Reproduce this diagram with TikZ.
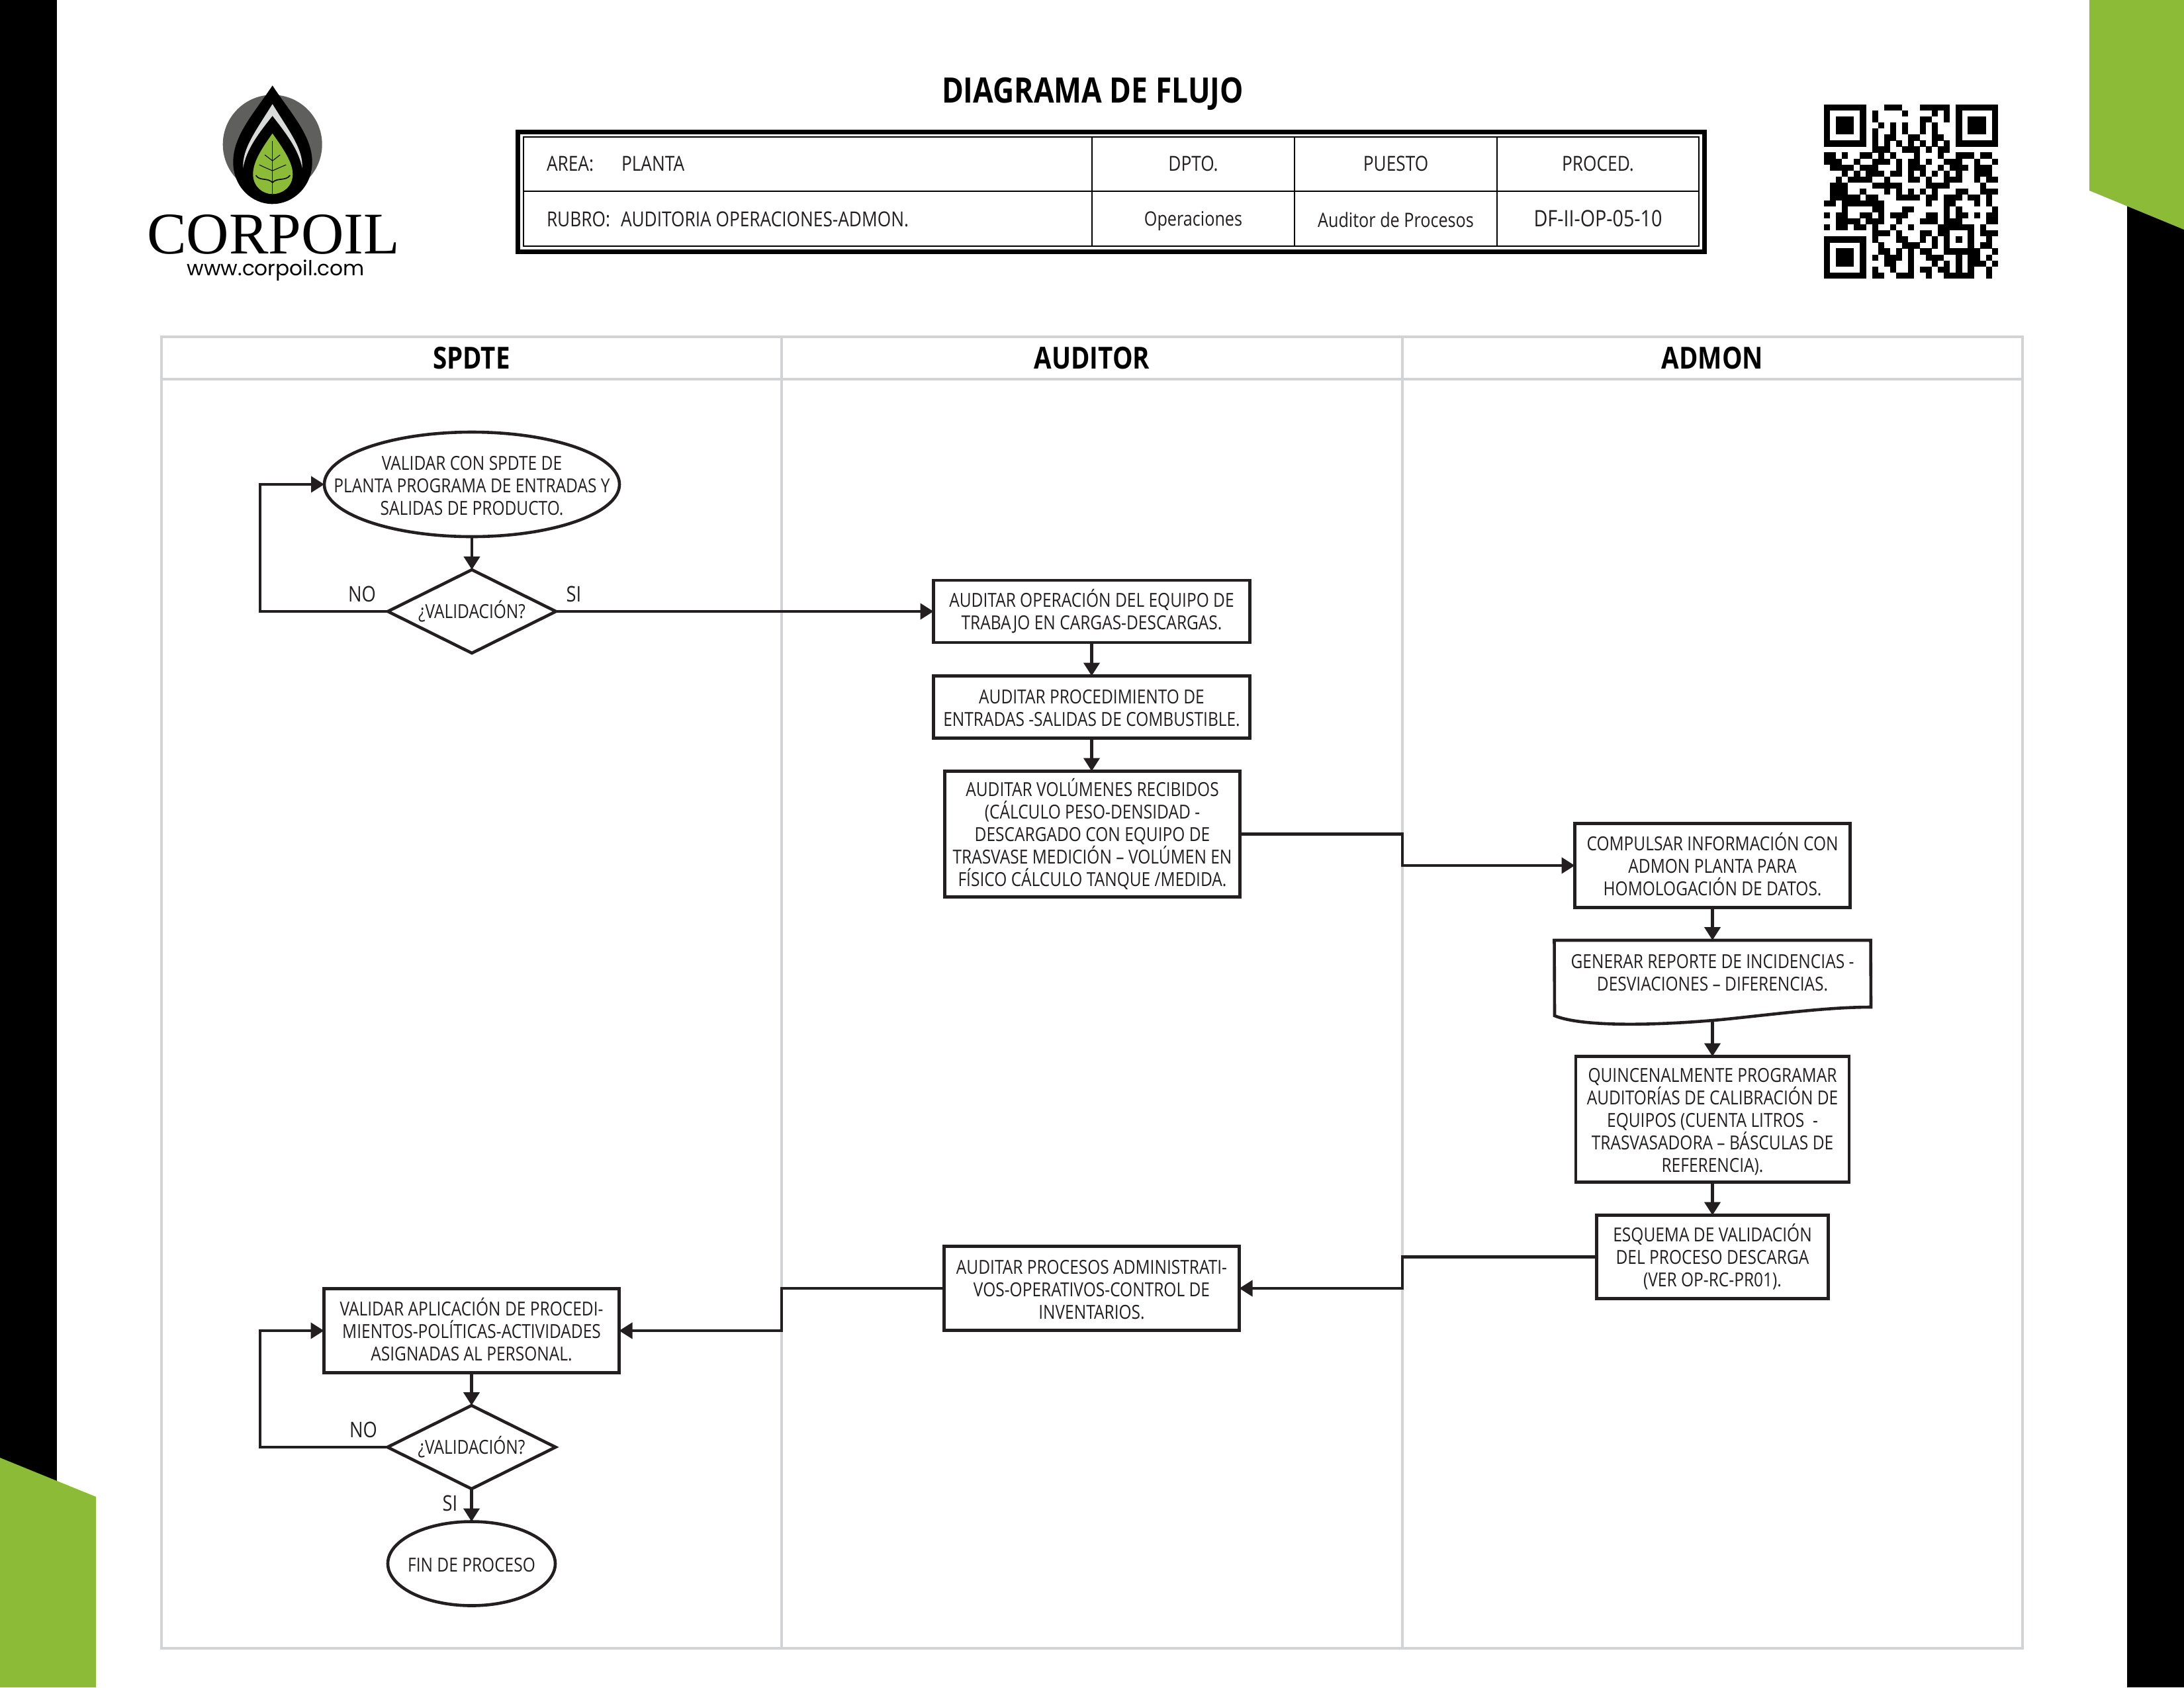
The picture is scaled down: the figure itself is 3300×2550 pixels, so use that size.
\documentclass[tikz,border=0pt]{standalone}
\usepackage{fontspec}
\setmainfont[FakeStretch=0.84]{Open Sans}
\newfontfamily\logoserif{Liberation Serif}
\newfontfamily\logosans{Poppins}
\usetikzlibrary{arrows.meta,shapes.geometric}
\definecolor{ink}{HTML}{231F20}
\definecolor{lanegray}{HTML}{D1D3D4}
\definecolor{brandgreen}{HTML}{8CBB38}
\definecolor{logogray}{HTML}{5F605E}
\definecolor{logolight}{HTML}{D9DBDA}
\def\px{0.24pt}
\tikzset{
  x=0.24pt,y=-0.24pt,
  every node/.style={outer sep=0pt,inner sep=0pt,text=ink},
  boxtext/.style={align=center,font=\fontsize{7}{8.16}\selectfont,text=ink},
  procbox/.style={draw=ink,fill=white,line width=4.6*\px,rectangle,boxtext},
  startell/.style={draw=ink,fill=white,line width=4.6*\px,ellipse},
  decide/.style={draw=ink,fill=white,line width=4.6*\px,diamond,shape aspect=2},
  flow/.style={draw=ink,line width=4.4*\px,-{Triangle[length=20*\px,width=24*\px]}},
  flowlabel/.style={font=\fontsize{7.8}{9}\selectfont,text=ink},
  lanebox/.style={draw=lanegray,line width=4.5*\px,rectangle,font=\fontsize{11}{13}\bfseries\selectfont,text=black},
  tabcell/.style={draw=black,line width=2.2*\px,rectangle},
  tabtext/.style={anchor=base,font=\fontsize{7.5}{9}\selectfont,text=ink},
  tablow/.style={tabtext,font=\fontsize{7.2}{9}\selectfont},
}
\begin{document}
\begin{tikzpicture}
\useasboundingbox (0,0) rectangle (3300,2550);
\fill[white] (0,0) rectangle (3300,2550);
% page bands
\fill[black] (0,0) rectangle (86,2550);
\fill[black] (3214,0) rectangle (3300,2550);
\fill[brandgreen] (3157,0) -- (3300,0) -- (3300,347) -- (3157,288) -- cycle;
\fill[brandgreen] (0,2203) -- (145,2262) -- (145,2550) -- (0,2550) -- cycle;
% logo
\fill[logogray] (411.7,218.3) circle [radius=75];
\fill[black] (411.7,129.3) .. controls (383,172) and (352.3,205) .. (352.3,245)
  .. controls (352.3,282) and (380,308.3) .. (411.7,308.3)
  .. controls (443,308.3) and (471.7,282) .. (471.7,245)
  .. controls (471.7,205) and (440,172) .. (411.7,129.3) -- cycle;
\fill[logolight] (411.7,157.3) .. controls (385,200) and (366,225) .. (367.3,254)
  .. controls (372,225) and (392,200) .. (411.7,175)
  .. controls (431,200) and (451,225) .. (456.7,254)
  .. controls (458,225) and (438,200) .. (411.7,157.3) -- cycle;
\fill[brandgreen] (411.7,201.7) .. controls (395,225) and (382.3,245) .. (382.3,263.3)
  .. controls (382.3,282) and (397,293.3) .. (411.7,293.3)
  .. controls (427,293.3) and (442.3,282) .. (442.3,263.3)
  .. controls (442.3,245) and (428,225) .. (411.7,201.7) -- cycle;
\draw[black,line width=1.4*\px] (411.7,213) -- (411.7,293.3);
\draw[black,line width=1*\px] (400,234) .. controls (405,238) .. (411.7,243) .. controls (418,238) .. (423.3,234);
\draw[black,line width=1*\px] (391.7,249) .. controls (400,253) .. (411.7,258) .. controls (423,253) .. (432.3,249);
\draw[black,line width=1.6*\px] (386.7,265) .. controls (392,274) and (405,268) .. (411.7,276) .. controls (418,268) and (432,274) .. (438.3,265);
\node[anchor=base,font=\logoserif\fontsize{21.4}{24}\selectfont,text=black] (corp) at (413,383) {CORPOIL};
\node[anchor=base,font=\logosans\fontsize{7.5}{9}\selectfont,text=black] (web) at (416.7,416.7) {www.corpoil.com};
% QR
\foreach \r/\cs in {
0/{0,1,2,3,4,5,6,10,11,12,16,17,18,19,20,22,23,24,25,26,27,28},
1/{0,6,8,13,18,20,22,28},
2/{0,2,3,4,6,8,16,17,20,22,24,25,26,28},
3/{0,2,3,4,6,9,11,13,16,18,22,24,25,26,28},
4/{0,2,3,4,6,8,11,13,16,18,22,24,25,26,28},
5/{0,6,8,10,11,14,15,18,19,22,28},
6/{0,1,2,3,4,5,6,8,10,12,14,16,18,20,22,23,24,25,26,27,28},
7/{8,9,10,13,14,15,17,19,20},
8/{0,1,3,6,7,9,11,15,19,22,23,24,26,27},
9/{0,1,2,5,8,9,10,12,14,15,17,20,21,22,25,28},
10/{1,2,3,4,6,7,8,12,14,15,16,19,21,22,23,25,26,27},
11/{3,5,7,8,9,11,12,14,16,18,20,22,25,26,27},
12/{2,4,5,6,7,10,14,15,17,20,21,22,25,27,28},
13/{1,2,3,8,9,10,11,12,17,18,19,20,26},
14/{1,2,3,6,10,12,14,16,18,22,23,26,27,28},
15/{1,2,3,4,5,7,8,12,13,14,15,17,18,20,21,22,24,25,27},
16/{0,1,3,4,5,6,7,8,9,17,20,21,25,27},
17/{3,8,9,13,14,20,22,28},
18/{0,2,3,6,7,9,11,12,13,17,18,20,22,23,25,27,28},
19/{2,3,4,5,7,8,9,12,16,17,18,20,21,22,27,28},
20/{0,2,3,5,6,8,11,14,19,20,21,22,23,24,26},
21/{8,9,10,12,16,17,19,20,24,26,27,28},
22/{0,1,2,3,4,5,6,8,12,13,16,18,20,22,24,27},
23/{0,6,9,13,14,15,18,20,24,26,27},
24/{0,2,3,4,6,9,10,12,14,16,17,20,21,22,23,24,25,28},
25/{0,2,3,4,6,8,10,11,12,14,17,18,19,22,24,25,27},
26/{0,2,3,4,6,10,11,14,18,20,22,24,25,26,28},
27/{0,6,8,11,14,16,17,19,20,22,24,27},
28/{0,1,2,3,4,5,6,8,9,12,13,14,17,20,21,22,23,24,27}}{
  \foreach \c in \cs {
    \fill[black] ({2756+\c*9.06},{158+\r*9.06}) rectangle +(9.2,9.2);
  }
}
% title
\node[anchor=base,font=\fontsize{12.7}{15}\bfseries\selectfont,text=black] (title) at (1651,155) {DIAGRAMA DE FLUJO};
% header table
\node[tabcell,minimum width=859*\px,minimum height=82*\px] (cArea) at (1220.5,248) {};
\node[tabcell,minimum width=859*\px,minimum height=83*\px] (cRubro) at (1220.5,330.5) {};
\node[tabcell,minimum width=306*\px,minimum height=82*\px] (cDpto) at (1803,248) {};
\node[tabcell,minimum width=306*\px,minimum height=83*\px] (cOper) at (1803,330.5) {};
\node[tabcell,minimum width=306*\px,minimum height=82*\px] (cPuesto) at (2109,248) {};
\node[tabcell,minimum width=306*\px,minimum height=83*\px] (cAudit) at (2109,330.5) {};
\node[tabcell,minimum width=305*\px,minimum height=82*\px] (cProced) at (2414.5,248) {};
\node[tabcell,minimum width=305*\px,minimum height=83*\px] (cDoc) at (2414.5,330.5) {};
\node[draw=black,line width=7*\px,rectangle,minimum width=1793*\px,minimum height=181*\px] (tframe) at (1679,289.5) {};
\node[tabtext,anchor=base west] (tA) at (826,258.5) {AREA:};
\node[tabtext,anchor=base west] (tP) at (939,258.5) {PLANTA};
\node[tabtext,anchor=base west] (tR) at (826,342.5) {RUBRO:};
\node[tabtext,anchor=base west] (tU) at (938,342.5) {AUDITORIA OPERACIONES-ADMON.};
\node[tabtext] (tD) at (1803,258.5) {DPTO.};
\node[tablow] (tO) at (1803,341.5) {Operaciones};
\node[tabtext] (tPu) at (2109,258.5) {PUESTO};
\node[tablow] (tAu) at (2109,343.5) {Auditor de Procesos};
\node[tabtext] (tPr) at (2414.5,258.5) {PROCED.};
\node[tabtext,font=\fontsize{8.2}{10}\selectfont] (tDf) at (2414.5,342.5) {DF-II-OP-05-10};
% swimlanes
\node[lanebox,minimum width=937*\px,minimum height=64*\px] (h1) at (712.5,541) {SPDTE};
\node[lanebox,minimum width=938*\px,minimum height=64*\px] (h2) at (1650,541) {AUDITOR};
\node[lanebox,minimum width=937*\px,minimum height=64*\px] (h3) at (2587.5,541) {ADMON};
\node[lanebox,minimum width=937*\px,minimum height=1918*\px] (b1) at (712.5,1532) {};
\node[lanebox,minimum width=938*\px,minimum height=1918*\px] (b2) at (1650,1532) {};
\node[lanebox,minimum width=937*\px,minimum height=1918*\px] (b3) at (2587.5,1532) {};
% flow nodes
\node[startell,minimum width=446*\px,minimum height=158*\px,
  label={[boxtext,yshift=-0.5pt]center:VALIDAR CON SPDTE DE\\PLANTA PROGRAMA DE ENTRADAS Y\\SALIDAS DE PRODUCTO.}] (start) at (713,732) {};
\node[decide,minimum width=254*\px,minimum height=126*\px,label={[boxtext]center:¿VALIDACIÓN?}] (dec1) at (713,924) {};
\node[procbox,minimum width=478*\px,minimum height=94*\px] (aud1) at (1649.5,924) {AUDITAR OPERACIÓN DEL EQUIPO DE\\TRABAJO EN CARGAS-DESCARGAS.};
\node[procbox,minimum width=478*\px,minimum height=94*\px,
  label={[boxtext,yshift=-0.5pt]center:AUDITAR PROCEDIMIENTO DE\\ENTRADAS -SALIDAS DE COMBUSTIBLE.}] (aud2) at (1649.5,1068.5) {};
\node[procbox,minimum width=446*\px,minimum height=190*\px] (aud3) at (1650.5,1260.5) {AUDITAR VOLÚMENES RECIBIDOS\\(CÁLCULO PESO-DENSIDAD -\\DESCARGADO CON EQUIPO DE\\TRASVASE MEDICIÓN – VOLÚMEN EN\\FÍSICO CÁLCULO TANQUE /MEDIDA.};
\node[procbox,minimum width=416*\px,minimum height=127*\px,
  label={[boxtext,yshift=0.5pt]center:COMPULSAR INFORMACIÓN CON\\ADMON PLANTA PARA\\HOMOLOGACIÓN DE DATOS.}] (comp) at (2587.5,1308) {};
\node[rectangle,minimum width=478*\px,minimum height=122*\px] (rep) at (2587.5,1482) {};
\draw[ink,fill=white,line width=4.6*\px] (rep.north west) -- (rep.north east) -- (2827,1522)
  .. controls (2760,1522) and (2680,1533) .. (2600,1541)
  .. controls (2500,1550) and (2390,1552) .. (2349,1535) -- cycle;
\node[boxtext] (reptext) at (2587.5,1470) {GENERAR REPORTE DE INCIDENCIAS -\\DESVIACIONES – DIFERENCIAS.};
\node[procbox,minimum width=413*\px,minimum height=190*\px,
  label={[boxtext,yshift=-1pt]center:QUINCENALMENTE PROGRAMAR\\AUDITORÍAS DE CALIBRACIÓN DE\\EQUIPOS (CUENTA LITROS\ \ -\\TRASVASADORA – BÁSCULAS DE\\REFERENCIA).}] (quin) at (2587.5,1691.5) {};
\node[procbox,minimum width=350*\px,minimum height=126*\px] (esq) at (2587.5,1899.5) {ESQUEMA DE VALIDACIÓN\\DEL PROCESO DESCARGA\\(VER OP-RC-PR01).};
\node[procbox,minimum width=446*\px,minimum height=127*\px,
  label={[boxtext,yshift=-0.5pt]center:AUDITAR PROCESOS ADMINISTRATI-\\VOS-OPERATIVOS-CONTROL DE\\INVENTARIOS.}] (proc) at (1649.5,1947) {};
\node[procbox,minimum width=446*\px,minimum height=127*\px,
  label={[boxtext,yshift=0.5pt]center:VALIDAR APLICACIÓN DE PROCEDI-\\MIENTOS-POLÍTICAS-ACTIVIDADES\\ASIGNADAS AL PERSONAL.}] (val) at (712.5,2011) {};
\node[decide,minimum width=254*\px,minimum height=126*\px,label={[boxtext]center:¿VALIDACIÓN?}] (dec2) at (712.5,2187) {};
\node[startell,minimum width=253*\px,minimum height=127*\px,label={[boxtext,yshift=-0.4pt]center:FIN DE PROCESO}] (fin) at (712.5,2363) {};
% branch labels
\node[flowlabel] (no1) at (547,898) {NO};
\node[flowlabel] (si1) at (867,898) {SI};
\node[flowlabel] (no2) at (549,2161) {NO};
\node[flowlabel] (si2) at (680,2272) {SI};
% free corners
\coordinate (loopA) at (393,732);
\coordinate (loopB) at (393,2011);
\coordinate (midA) at (2119,1284);
\coordinate (midB) at (2119,1923);
\coordinate (midC) at (1181,1979);
% connectors
\draw[flow] (start.south) -- (dec1.north);
\draw[flow] (dec1.west) -| (loopA) -- (start.west);
\draw[flow] (dec1.east) -- (aud1.west);
\draw[flow] (aud1.south) -- (aud2.north);
\draw[flow] (aud2.south) -- (aud3.north -| aud2.south);
\draw[flow] (aud3.east) -| (midA) |- (comp.west);
\draw[flow] (comp.south) -- (rep.north);
\draw[flow] (rep.south) -- (quin.north);
\draw[flow] (quin.south) -- (esq.north);
\draw[flow] (esq.west) -| (midB) |- (proc.east);
\draw[flow] (proc.west) -| (midC) |- (val.east);
\draw[flow] (val.south) -- (dec2.north);
\draw[flow] (dec2.west) -| (loopB) -- (val.west);
\draw[flow] (dec2.south) -- (fin.north);
\end{tikzpicture}
\end{document}
